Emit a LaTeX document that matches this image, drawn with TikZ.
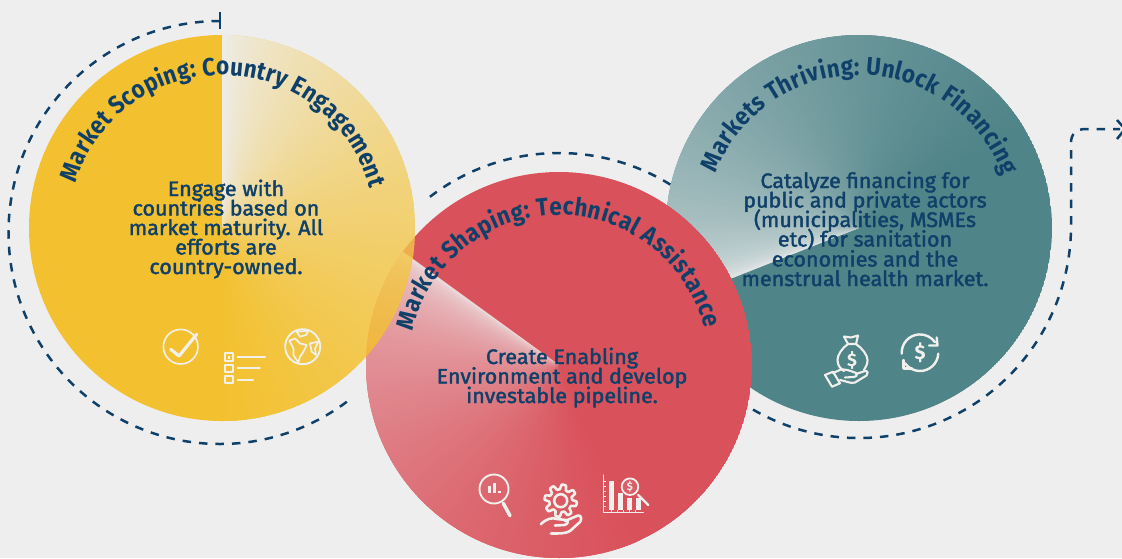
\documentclass[tikz,border=0pt]{standalone}
\usepackage{fontspec}
\usetikzlibrary{decorations.text,calc}
\newfontfamily\titlefont[FakeStretch=0.9]{Fira Sans}
\newfontfamily\bodyfont[FakeBold=1.8,FakeStretch=1.025]{Fira Sans}
\newfontfamily\iconfont{Fira Sans}
\definecolor{bgc}{HTML}{EEEEEE}
\definecolor{navy}{HTML}{0F4069}
\definecolor{yel}{HTML}{F5B600}
\definecolor{redc}{HTML}{D9515B}
\definecolor{teal2}{HTML}{4F8488}
\definecolor{iconc}{HTML}{F1F0EC}
\newcommand{\conicfill}[7]{% cx,cy,start,dir,span,exponent,colour
 \begin{scope}
 \clip (#1,#2) circle[radius=193pt];
 \fill[#7] (#1,#2) circle[radius=193pt];
 \foreach \i in {0,...,119}{
  \pgfmathsetmacro{\ca}{#3+#4*(\i/120)*#5}
  \pgfmathsetmacro{\cb}{#3+#4*((\i+1.6)/120)*#5}
  \pgfmathsetmacro{\ct}{100*exp(#6*ln((\i+0.5)/120))}
  \colorlet{wedgec}{#7!\ct!bgc}
  \fill[wedgec] (#1,#2) -- ($(#1,#2)+(\ca:300pt)$) -- ($(#1,#2)+(\cb:300pt)$) -- cycle;
 }
 \end{scope}}
\tikzset{
 dashline/.style={draw=navy,line width=2.5pt,dash pattern=on 8.5pt off 8pt},
 titlepath/.style={decorate,decoration={text along path,text align={fit to path},text color=navy,text={|\titlefont\bfseries\fontsize{25}{25}\selectfont|#1}}},
 bodytext/.style={text=navy,anchor=base,inner sep=0pt,font=\bodyfont\fontsize{21}{21}\selectfont},
 iconline/.style={draw=iconc,line width=#1,line cap=round,line join=round},
 iconline/.default=2pt,
}
\begin{document}
\begin{tikzpicture}[x=1pt,y=-1pt]
\useasboundingbox (0,0) rectangle (1122,558);
\fill[bgc] (0,0) rectangle (1122,558);
% dashed connectors
\coordinate (ys) at (220,21);
\coordinate (rs) at ($(559,365)+(127.5:212pt)$);
\coordinate (ts) at ($(859,226)+(240:212pt)$);
\coordinate (tv) at (1071,143);
\coordinate (th) at (1086,129);
\coordinate (tend) at (1120,129);
\draw[dashline] (ys) arc[start angle=90,end angle=307.3,radius=211.5pt];
\draw[navy,line width=2.5pt] (220,12) -- (220,29);
\draw[dashline] (rs) arc[start angle=127.5,end angle=58,radius=212pt];
\draw[dashline] (ts) arc[start angle=240,end angle=360,radius=212pt] -- (tv) .. controls (1071,134) and (1076,129) .. (th) -- (tend);
\draw[navy,line width=2.5pt] (1117,120) -- (1125,129) -- (1117,139);
% circles
\conicfill{859}{228}{201.6}{-1}{170}{0.42}{teal2}
\conicfill{559}{365}{144}{1}{150}{0.35}{redc}
\begin{scope}[transparency group,opacity=0.8]
\conicfill{222}{228}{90}{-1}{180}{0.6}{yel}
\end{scope}
% titles
\path[titlepath={Market Scoping: Country Engagement}] ($(222,228)+(163:153pt)$) arc[start angle=163,end angle=15,radius=153pt];
\path[titlepath={Market Shaping: Technical Assistance}] ($(559,365)+(167:150pt)$) arc[start angle=167,end angle=14,radius=150pt];
\path[titlepath={Markets Thriving: Unlock Financing}] ($(859,228)+(159:153pt)$) arc[start angle=159,end angle=20,radius=153pt];
% body
\node[bodytext] (y1) at (226,196) {Engage with};
\node[bodytext] (y2) at (226,215.5) {countries based on};
\node[bodytext] (y3) at (226,235) {market maturity. All};
\node[bodytext] (y4) at (226,254.5) {efforts are};
\node[bodytext] (y5) at (226,274) {country-owned.};
\node[bodytext] (r1) at (562,364) {Create Enabling};
\node[bodytext] (r2) at (562,383.5) {Environment and develop};
\node[bodytext] (r3) at (562,403) {investable pipeline.};
\node[bodytext] (t1) at (865,188) {Catalyze financing for};
\node[bodytext] (t2) at (865,207.5) {public and private actors};
\node[bodytext] (t3) at (865,227) {(municipalities, MSMEs};
\node[bodytext] (t4) at (865,246.5) {etc) for sanitation};
\node[bodytext] (t5) at (865,266.5) {economies and the};
\node[bodytext] (t6) at (865,286) {menstrual health market.};
% --- yellow icons
\draw[iconline=1.6pt] (180.7,346.7) circle[radius=17.3pt];
\draw[iconline=3.2pt] (170.7,349.3) -- (179,356) -- (196.7,334.3);
\draw[iconline=2pt] (225,353.3) rectangle (232.7,360.7) (225,365) rectangle (232.7,372.3) (225,376) rectangle (232.7,383.3);
\fill[iconc] (227.5,355.5) rectangle (230.2,358.5);
\draw[iconline=2.3pt] (237.7,357) -- (265,357) (237.7,368.3) -- (259.7,368.3) (237.7,380) -- (253,380);
\draw[iconline=1.9pt] (302.7,346.7) circle[radius=17.5pt];
\begin{scope}[shift={(302.7,346.7)}]
\draw[iconline=1.7pt] (-13.3,-6) -- (-7.7,-8.3) -- (-2.7,-3.3) -- (4,-1.7) -- (0.7,5) -- (-2.7,10) -- (-4.3,16) -- (-9.3,8.3) -- (-9.3,1.7) -- cycle;
\draw[iconline=1.7pt] (-6,-15) -- (5.7,-16) -- (3.3,-11.7) -- (-2.7,-10) -- cycle;
\draw[iconline=1.7pt] (7.3,-3.3) -- (15.7,-5) -- (12.3,1.7) -- (13.3,8.3) -- (9,5) -- cycle;
\end{scope}
% --- red icons
\draw[iconline=1.9pt] (494,489) circle[radius=14.5pt];
\draw[iconline=3.5pt] (503.3,503.3) -- (510,515.7);
\draw[iconline=3.2pt,line cap=butt] (489.3,485.7) -- (489.3,493.3) (494.5,483.3) -- (494.5,493.3) (499.5,491) -- (499.5,493.3);
\draw[iconline=2.6pt] plot[samples=129,domain=0:360,smooth] ({560.7+(13.8+2.4*max(-1,min(1,2*sin(8*\x))))*cos(\x)},{500.7+(13.8+2.4*max(-1,min(1,2*sin(8*\x))))*sin(\x)}) -- cycle;
\draw[iconline=2.6pt] (560.7,500.7) circle[radius=6.5pt];
\draw[iconline=2.6pt] (540.7,524.3) .. controls (546,519) and (552,517) .. (557,519) -- (566,520) .. controls (569,521) and (568,524.5) .. (564,525) -- (555,525.5);
\draw[iconline=2.6pt] (565,521) -- (578,515.5) .. controls (582,515) and (581.5,520) .. (580,522) -- (570,531) .. controls (566,533.5) and (560,533.5) .. (551,533.5);
\draw[iconline=1.5pt] (603.3,475) -- (603.3,512.3) -- (643.3,512.3);
\foreach \yy in {481,486,491,496,501,506}{\draw[iconc,line width=0.7pt] (603.3,\yy) -- (606,\yy);}
\foreach \xx in {611,617,623,629,635}{\draw[iconc,line width=0.7pt] (\xx,512.3) -- (\xx,510);}
\draw[iconc,line width=4.6pt] (611.7,481) -- (611.7,510) (620.7,493) -- (620.7,510) (629.3,498) -- (629.3,510) (638.3,498) -- (638.3,510);
\fill[redc!92!bgc] (630,486.7) circle[radius=8.3pt];
\draw[iconline=1.8pt] (630,486.7) circle[radius=8.3pt];
\draw[iconline=2.4pt] (638.3,495) -- (648.3,505);
\node[text=iconc,inner sep=0pt,font=\iconfont\bfseries\fontsize{11}{11}\selectfont] (chartd) at (630,486.7) {\$};
% --- teal icons
\draw[iconline=2.1pt] (848,344) .. controls (842,348) and (837.5,355) .. (837.5,360) .. controls (837.5,366) and (841,369) .. (844,371);
\draw[iconline=2.1pt] (856,344) .. controls (862,348) and (867.5,355) .. (867.5,360) .. controls (867.5,364) and (866,367) .. (864,370);
\draw[iconline=2.1pt] (848,344) -- (844,336.5) -- (851,337.5) -- (858,335.5) -- (856,344) -- cycle;
\node[text=iconc,inner sep=0pt,font=\iconfont\bfseries\fontsize{18}{18}\selectfont] (bagd) at (852,360) {\$};
\draw[iconline=2.1pt] (825,375) -- (833,371.7) -- (840,383.3) -- (832,386.7) -- cycle;
\draw[iconline=2.1pt] (833,373) -- (841,369.5) .. controls (846,369) and (851,371) .. (856,373) .. controls (858,375) and (856,377) .. (853,377) -- (845,377.5);
\draw[iconline=2.1pt] (856,374) -- (865,371) .. controls (868,370.5) and (868.5,374) .. (866.5,375.5) -- (855,382.5) .. controls (851,384) and (846,381) .. (840,380);
\draw[iconline=2.4pt] ($(920,352.7)+(183:18.3pt)$) arc[start angle=183,end angle=35,radius=18.3pt];
\draw[iconline=2.4pt] ($(920,352.7)+(-3:18.3pt)$) arc[start angle=-3,end angle=-145,radius=18.3pt];
\draw[iconline=2.4pt] (936.7,337.5) -- (937.5,345.5) -- (929,345.5);
\draw[iconline=2.4pt] (903.5,360) -- (903.5,368.5) -- (912,368.5);
\node[text=iconc,inner sep=0pt,font=\iconfont\bfseries\fontsize{20}{20}\selectfont] (refd) at (920,353) {\$};
\end{tikzpicture}
\end{document}
